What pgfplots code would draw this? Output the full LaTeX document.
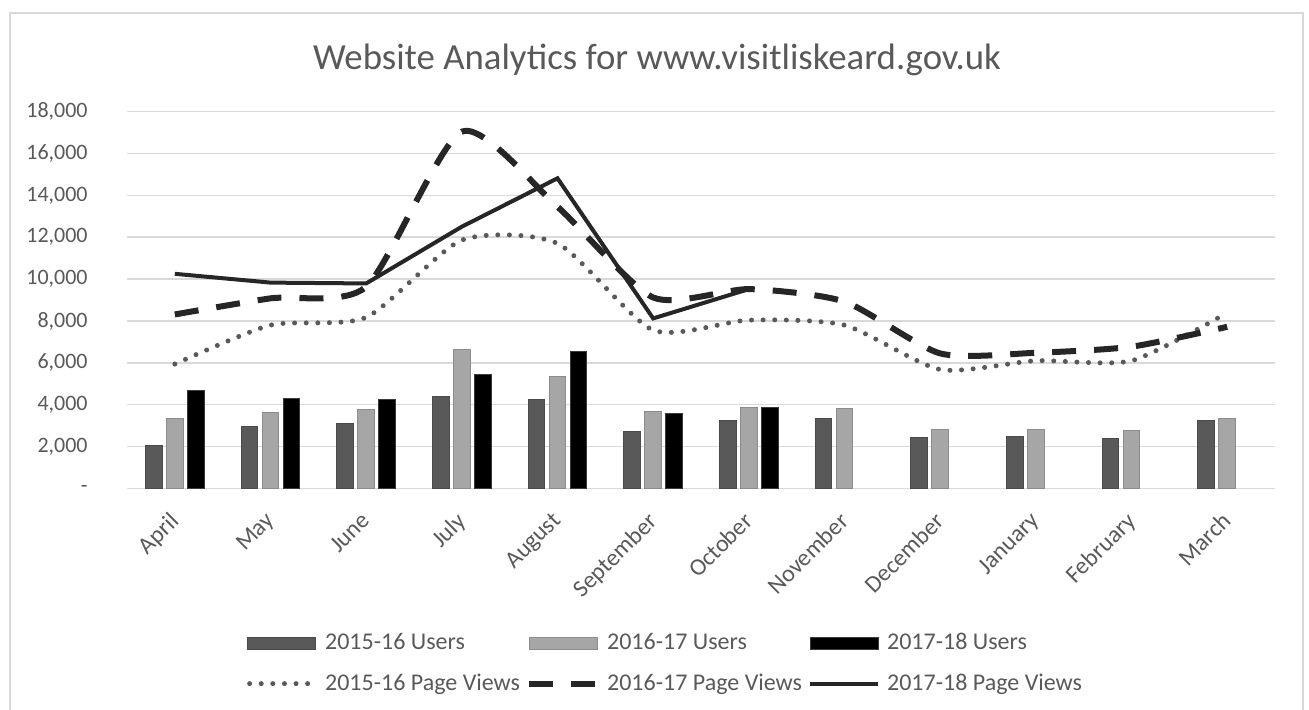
\documentclass[border=0pt]{standalone}
\usepackage{fontspec}
\setmainfont{Carlito}
\usepackage{pgfplots}
\pgfplotsset{compat=1.18}
\definecolor{txt}{HTML}{595959}
\definecolor{grd}{HTML}{D9D9D9}
\definecolor{barA}{HTML}{595959}
\definecolor{barAd}{HTML}{4A4A4A}
\definecolor{barB}{HTML}{A6A6A6}
\definecolor{barBd}{HTML}{8C8C8C}
\definecolor{barCd}{HTML}{3A3A3A}
\definecolor{lineA}{HTML}{595959}
\definecolor{lineB}{HTML}{262626}
\pgfplotsset{
  barleg/.style={legend image code/.code={\draw[##1] (0pt,-3pt) rectangle (34pt,3pt);}},
  lineleg/.style={legend image code/.code={\draw[##1] (0pt,0pt) -- (34pt,0pt);}},
  dotleg/.style={legend image code/.code={\draw[##1] (1pt,0pt) -- (34pt,0pt);}},
}
\begin{document}
\begin{tikzpicture}
\path[use as bounding box] (0,0) rectangle (654.5pt,355pt);
\draw[grd, line width=1pt] (5pt,-5pt) -- (5pt,348.5pt) -- (651.5pt,348.5pt) -- (651.5pt,-5pt);
\node[anchor=base, text=txt, font=\fontsize{18.4}{22}\selectfont, inner sep=0pt] at (328.5pt,320pt) {Website Analytics for www.visitliskeard.gov.uk};
\begin{axis}[
  at={(63.5pt,110.75pt)}, anchor=south west,
  scale only axis, width=574pt, height=188.5pt,
  xmin=-0.5, xmax=11.5, ymin=0, ymax=18000,
  axis line style={draw=none},
  major tick length=0pt,
  scaled y ticks=false,
  ymajorgrids, grid style={grd, line width=0.75pt},
  ytick={0,2000,...,18000},
  yticklabels={-\hspace{2pt},{2,000},{4,000},{6,000},{8,000},{10,000},{12,000},{14,000},{16,000},{18,000}},
  xtick={0,...,11},
  xticklabels={April,May,June,July,August,September,October,November,December,January,February,March},
  /pgf/number format/assume math mode=true,
  yticklabel style={anchor=east, xshift=-19.5pt, inner sep=0pt, text=txt, font=\fontsize{11}{13}\selectfont},
  xticklabel style={rotate=45, anchor=north east, inner sep=0pt, xshift=-10pt, yshift=-5.5pt, text=txt, font=\fontsize{12}{14}\selectfont},
  legend columns=3,
  legend style={at={(0.4705,-0.464)}, anchor=center, draw=none, fill=none,
    font=\fontsize{12}{14}\selectfont, text=txt,
    nodes={inner sep=0pt},
    /tikz/every odd column/.style={column sep=3.5pt},
    /tikz/every even column/.style={column sep=0.5pt},
    row sep=10.5pt},
]
\addplot[ybar, bar width=8.25pt, bar shift=-10.5pt, fill=barA, draw=barAd, line width=0.5pt, barleg]
  coordinates {(0,2050) (1,2970) (2,3110) (3,4400) (4,4270) (5,2740) (6,3230) (7,3340) (8,2420) (9,2470) (10,2370) (11,3230)};
\addlegendentry{\makebox[100pt][l]{2015-16 Users}}
\addplot[ybar, bar width=8.25pt, bar shift=0pt, fill=barB, draw=barBd, line width=0.5pt, barleg]
  coordinates {(0,3340) (1,3650) (2,3760) (3,6620) (4,5370) (5,3660) (6,3870) (7,3820) (8,2820) (9,2820) (10,2770) (11,3320)};
\addlegendentry{\makebox[100pt][l]{2016-17 Users}}
\addplot[ybar, bar width=8.25pt, bar shift=10.5pt, fill=black, draw=barCd, line width=0.5pt, barleg]
  coordinates {(0,4680) (1,4290) (2,4240) (3,5440) (4,6530) (5,3580) (6,3870)};
\addlegendentry{\makebox[100pt][l]{2017-18 Users}}
\addplot[lineA, line width=2.5pt, line cap=round, dash pattern=on 0pt off 5.8pt, smooth, tension=0.4, dotleg]
  coordinates {(0,5940) (1,7800) (2,8170) (3,11860) (4,11700) (5,7560) (6,8040) (7,7800) (8,5680) (9,6100) (10,6100) (11,8390)};
\addlegendentry{\makebox[100pt][l]{2015-16 Page Views}}
\addplot[lineB, line width=3pt, dash pattern=on 12pt off 9pt, smooth, tension=0.4, lineleg]
  coordinates {(0,8310) (1,9080) (2,9630) (3,17040) (4,13450) (5,9120) (6,9520) (7,8920) (8,6450) (9,6480) (10,6770) (11,7720)};
\addlegendentry{\makebox[100pt][l]{2016-17 Page Views}}
\addplot[lineB, line width=2pt, sharp plot, lineleg]
  coordinates {(0,10250) (1,9830) (2,9790) (3,12500) (4,14810) (5,8120) (6,9520)};
\addlegendentry{\makebox[100pt][l]{2017-18 Page Views}}
\end{axis}
\end{tikzpicture}
\end{document}
